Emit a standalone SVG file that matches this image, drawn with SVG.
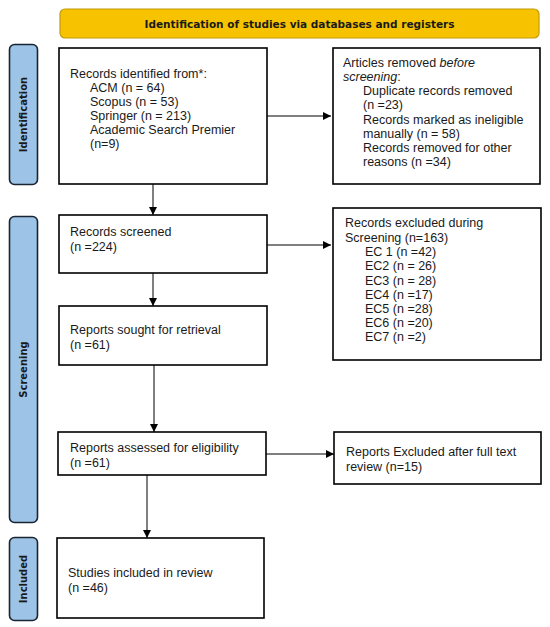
<svg xmlns="http://www.w3.org/2000/svg" width="550" height="627" viewBox="0 0 550 627">
<style>
.box{fill:#fff;stroke:#000;stroke-width:1.6}
.side{fill:#9dc3e6;stroke:#1a2533;stroke-width:1.6}
.t{font-family:"Liberation Sans",Arial,sans-serif;font-size:12.5px;fill:#1a1a1a}
.sl{font-family:"DejaVu Sans",Verdana,sans-serif;font-size:10px;font-weight:bold;fill:#1a1a1a}
.ln{stroke:#000;stroke-width:1;fill:none}
</style>
<defs>
<marker id="ah" viewBox="0 0 10 10" refX="10" refY="5" markerWidth="8" markerHeight="8" markerUnits="userSpaceOnUse" orient="auto">
<path d="M0,0 L10,5 L0,10 z" fill="#000"/>
</marker>
</defs>
<g id="header">
<rect x="60" y="9" width="479" height="29" rx="5" fill="#f7c300" stroke="#c49a0a" stroke-width="1.2"/>
<text x="299.5" y="27.5" text-anchor="middle" class="sl" textLength="310" lengthAdjust="spacingAndGlyphs">Identification of studies via databases and registers</text>
</g>
<g id="side-identification">
<rect class="side" x="9.5" y="44.5" width="28" height="140" rx="5"/>
<text class="sl" transform="translate(27,114.5) rotate(-90)" text-anchor="middle">Identification</text>
</g>
<g id="side-screening">
<rect class="side" x="9.5" y="216.5" width="28" height="306" rx="5"/>
<text class="sl" transform="translate(27,369.5) rotate(-90)" text-anchor="middle">Screening</text>
</g>
<g id="side-included">
<rect class="side" x="9.5" y="537.5" width="28" height="83" rx="5"/>
<text class="sl" transform="translate(27,579) rotate(-90)" text-anchor="middle">Included</text>
</g>
<g id="connectors">
<line class="ln" x1="153" y1="184" x2="153" y2="215" marker-end="url(#ah)"/>
<line class="ln" x1="267" y1="116" x2="331" y2="116" marker-end="url(#ah)"/>
<line class="ln" x1="153" y1="273" x2="153" y2="306" marker-end="url(#ah)"/>
<line class="ln" x1="267" y1="245" x2="331" y2="245" marker-end="url(#ah)"/>
<line class="ln" x1="154" y1="365" x2="154" y2="432" marker-end="url(#ah)"/>
<line class="ln" x1="266" y1="454" x2="334" y2="454" marker-end="url(#ah)"/>
<line class="ln" x1="147" y1="475" x2="147" y2="538" marker-end="url(#ah)"/>
</g>
<g id="records-identified">
<rect class="box" x="59" y="48" width="208" height="136"/>
<text class="t" x="70" y="77.5">Records identified from*:</text>
<text class="t" x="90" y="91.5">ACM (n = 64)</text>
<text class="t" x="90" y="105.5">Scopus (n = 53)</text>
<text class="t" x="90" y="119.5">Springer (n = 213)</text>
<text class="t" x="90" y="133.5">Academic Search Premier</text>
<text class="t" x="90" y="148">(n=9)</text>
</g>
<g id="articles-removed">
<rect class="box" x="333" y="48" width="207" height="136"/>
<text class="t" x="343" y="66.5">Articles removed <tspan font-style="italic">before</tspan></text>
<text class="t" x="343" y="81"><tspan font-style="italic">screening</tspan>:</text>
<text class="t" x="363" y="95">Duplicate records removed</text>
<text class="t" x="363" y="109">(n =23)</text>
<text class="t" x="363" y="123.5">Records marked as ineligible</text>
<text class="t" x="363" y="137.5">manually (n = 58)</text>
<text class="t" x="363" y="151.5">Records removed for other</text>
<text class="t" x="363" y="165.5">reasons (n =34)</text>
</g>
<g id="records-screened">
<rect class="box" x="59" y="215" width="208" height="58"/>
<text class="t" x="70" y="235.5">Records screened</text>
<text class="t" x="70" y="250.5">(n =224)</text>
</g>
<g id="records-excluded">
<rect class="box" x="333" y="208" width="208" height="152"/>
<text class="t" x="345" y="226.5">Records excluded during</text>
<text class="t" x="345" y="241.5">Screening (n=163)</text>
<text class="t" x="365" y="256">EC 1 (n =42)</text>
<text class="t" x="365" y="270">EC2 (n = 26)</text>
<text class="t" x="365" y="284.5">EC3 (n = 28)</text>
<text class="t" x="365" y="298.5">EC4 (n =17)</text>
<text class="t" x="365" y="312.5">EC5 (n =28)</text>
<text class="t" x="365" y="326.5">EC6 (n =20)</text>
<text class="t" x="365" y="341">EC7 (n =2)</text>
</g>
<g id="reports-sought">
<rect class="box" x="59" y="306" width="208" height="59"/>
<text class="t" x="70" y="333.5">Reports sought for retrieval</text>
<text class="t" x="70" y="348.5">(n =61)</text>
</g>
<g id="reports-assessed">
<rect class="box" x="58" y="432" width="208" height="43"/>
<text class="t" x="70" y="451.5">Reports assessed for eligibility</text>
<text class="t" x="70" y="466.5">(n =61)</text>
</g>
<g id="reports-excluded">
<rect class="box" x="334" y="432" width="207" height="52"/>
<text class="t" x="346" y="455.5">Reports Excluded after full text</text>
<text class="t" x="346" y="470.5">review (n=15)</text>
</g>
<g id="studies-included">
<rect class="box" x="57" y="538" width="207" height="80"/>
<text class="t" x="68" y="576.5">Studies included in review</text>
<text class="t" x="68" y="591.5">(n =46)</text>
</g>
</svg>
